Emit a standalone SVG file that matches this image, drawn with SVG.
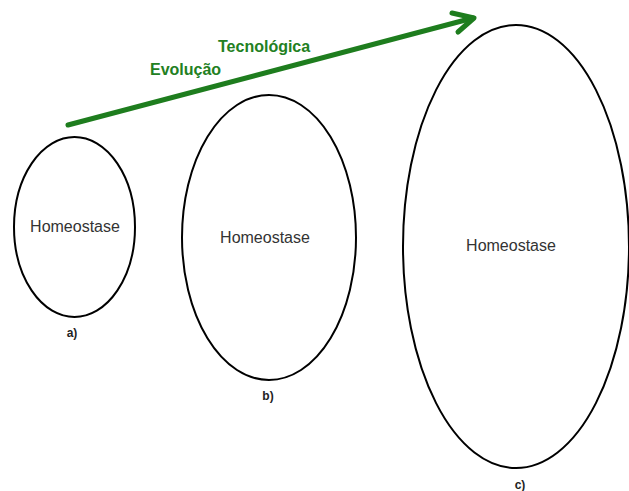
<svg xmlns="http://www.w3.org/2000/svg" width="629" height="491" viewBox="0 0 629 491">
<style>
.node ellipse{fill:none;stroke:#000;stroke-width:2}
.lbl{font-family:"Liberation Sans",Arial,sans-serif;font-size:16px;fill:#333;text-anchor:middle}
.cap{font-family:"Liberation Sans",Arial,sans-serif;font-size:12px;font-weight:bold;fill:#222;text-anchor:middle}
.evo{font-family:"Liberation Sans",Arial,sans-serif;font-size:16px;font-weight:bold;fill:#228022}
</style>
<rect width="629" height="491" fill="#fff"/>
<g id="connectors">
<line x1="68" y1="125" x2="473" y2="18" stroke="#1e7d1e" stroke-width="5" stroke-linecap="round"/>
<polyline points="452,13 474,18 458,32" fill="none" stroke="#1e7d1e" stroke-width="5" stroke-linecap="round" stroke-linejoin="round"/>
</g>
<g id="title">
<text class="evo" x="218" y="52">Tecnológica</text>
<text class="evo" x="150" y="75">Evolução</text>
</g>
<g id="node-a" class="node">
<ellipse cx="74.5" cy="227" rx="60.5" ry="90"/>
<text class="lbl" x="75" y="232">Homeostase</text>
<text class="cap" x="72" y="337">a)</text>
</g>
<g id="node-b" class="node">
<ellipse cx="269" cy="237.5" rx="87" ry="142.5"/>
<text class="lbl" x="265" y="243">Homeostase</text>
<text class="cap" x="268" y="400">b)</text>
</g>
<g id="node-c" class="node">
<ellipse cx="516" cy="246.5" rx="113" ry="221.5"/>
<text class="lbl" x="511" y="251">Homeostase</text>
<text class="cap" x="520" y="489">c)</text>
</g>
</svg>
